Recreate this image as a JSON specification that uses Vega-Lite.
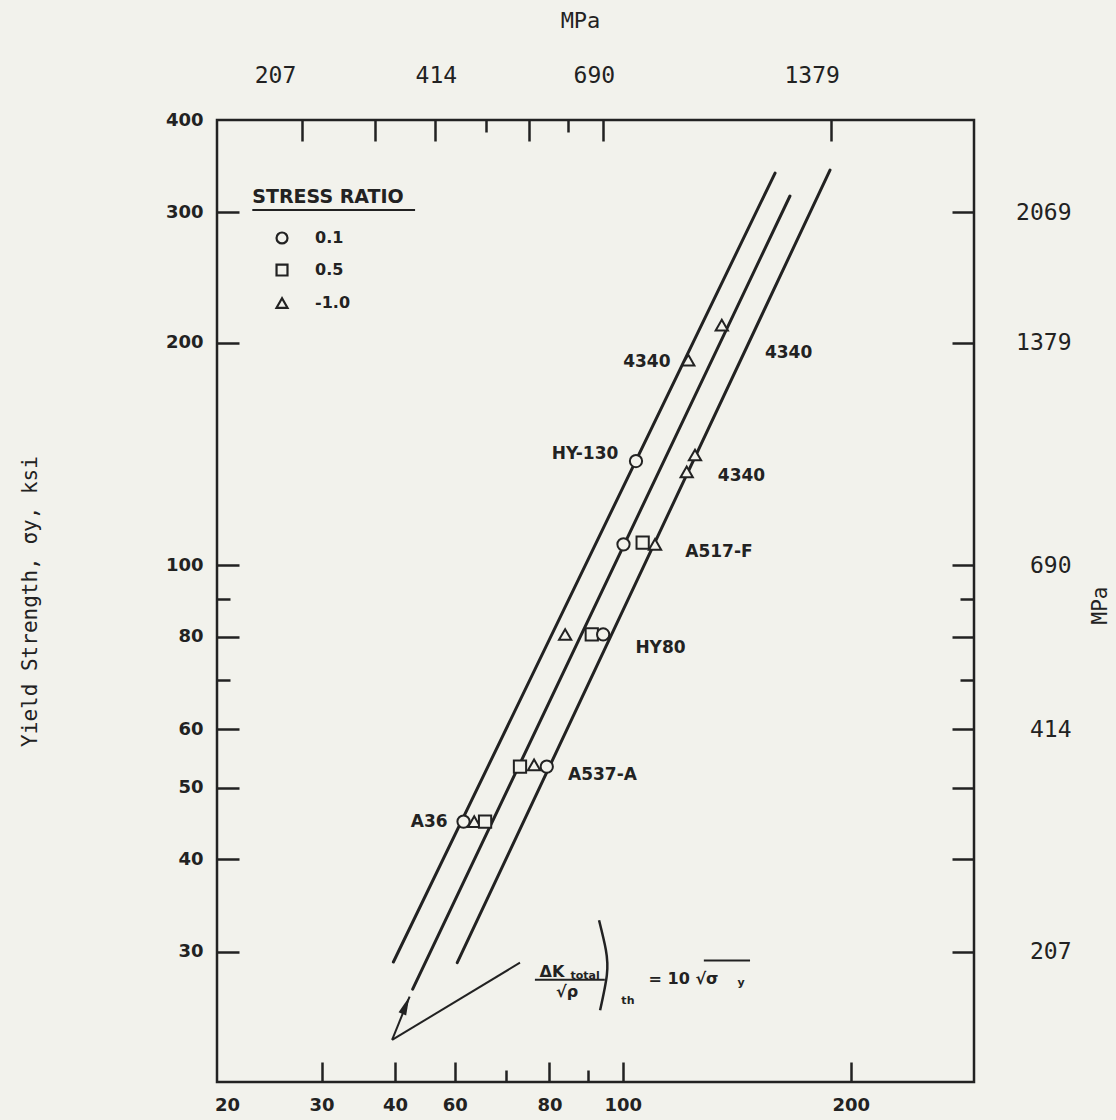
{
  "$schema": "https://vega.github.io/schema/vega-lite/v6.json",
  "width": 757,
  "height": 962,
  "autosize": "none",
  "padding": {"left": 217, "top": 120, "right": 142, "bottom": 38},
  "background": "#f2f2ec",
  "config": {"view": {"stroke": "#222222", "strokeWidth": 2.5}, "font": "DejaVu Sans"},
  "datasets": {
    "points": [
      {"steel": "4340", "x": 139.3, "y": 211.2, "ratio": "-1.0"},
      {"steel": "4340", "x": 125.8, "y": 189.4, "ratio": "-1.0"},
      {"steel": "HY-130", "x": 107.3, "y": 138.3, "ratio": "0.1"},
      {"steel": "4340", "x": 128.4, "y": 140.9, "ratio": "-1.0"},
      {"steel": "4340", "x": 125.2, "y": 133.7, "ratio": "-1.0"},
      {"steel": "A517-F", "x": 103.3, "y": 106.7, "ratio": "0.1"},
      {"steel": "A517-F", "x": 109.5, "y": 107.3, "ratio": "0.5"},
      {"steel": "A517-F", "x": 113.7, "y": 106.7, "ratio": "-1.0"},
      {"steel": "HY80", "x": 86.5, "y": 80.6, "ratio": "-1.0"},
      {"steel": "HY80", "x": 93.8, "y": 80.6, "ratio": "0.5"},
      {"steel": "HY80", "x": 97.1, "y": 80.6, "ratio": "0.1"},
      {"steel": "A537-A", "x": 75.4, "y": 53.4, "ratio": "0.5"},
      {"steel": "A537-A", "x": 78.7, "y": 53.7, "ratio": "-1.0"},
      {"steel": "A537-A", "x": 81.8, "y": 53.4, "ratio": "0.1"},
      {"steel": "A36", "x": 63.5, "y": 45.0, "ratio": "0.1"},
      {"steel": "A36", "x": 65.6, "y": 45.0, "ratio": "-1.0"},
      {"steel": "A36", "x": 67.8, "y": 45.0, "ratio": "0.5"}
    ],
    "legendRows": [
      {"ratio": "0.1", "x": 36.56, "y": 277.0, "lx": 40.43},
      {"ratio": "0.5", "x": 36.56, "y": 250.7, "lx": 40.43},
      {"ratio": "-1.0", "x": 36.56, "y": 226.2, "lx": 40.43}
    ],
    "legendTitle": [{"t": "STRESS RATIO", "x": 33.4, "y": 314.8}],
    "labels": [
      {"text": "4340", "x": 110.9, "y": 188.3},
      {"text": "4340", "x": 170.7, "y": 193.6},
      {"text": "HY-130", "x": 91.9, "y": 141.4},
      {"text": "4340", "x": 147.9, "y": 132.0},
      {"text": "A517-F", "x": 138.1, "y": 104.2},
      {"text": "HY80", "x": 115.6, "y": 77.2},
      {"text": "A537-A", "x": 96.9, "y": 52.0},
      {"text": "A36", "x": 57.2, "y": 44.9}
    ],
    "lines": [
      {"id": "L1", "kind": "fit", "ord": 1, "x": 51.3, "y": 29.06},
      {"id": "L1", "kind": "fit", "ord": 2, "x": 163.8, "y": 339.1},
      {"id": "L2", "kind": "fit", "ord": 1, "x": 54.4, "y": 26.7},
      {"id": "L2", "kind": "fit", "ord": 2, "x": 171.4, "y": 315.7},
      {"id": "L3", "kind": "fit", "ord": 1, "x": 62.3, "y": 29.0},
      {"id": "L3", "kind": "fit", "ord": 2, "x": 193.6, "y": 342.3},
      {"id": "A1", "kind": "pointer", "ord": 1, "x": 51.1, "y": 22.8},
      {"id": "A1", "kind": "pointer", "ord": 2, "x": 53.9, "y": 26.1},
      {"id": "A2", "kind": "pointer", "ord": 1, "x": 51.1, "y": 22.8},
      {"id": "A2", "kind": "pointer", "ord": 2, "x": 75.4, "y": 29.0},
      {"id": "F1", "kind": "bar", "ord": 1, "x": 78.9, "y": 27.5},
      {"id": "F1", "kind": "bar", "ord": 2, "x": 97.6, "y": 27.5},
      {"id": "F2", "kind": "bar", "ord": 1, "x": 131.9, "y": 29.2},
      {"id": "F2", "kind": "bar", "ord": 2, "x": 151.8, "y": 29.2},
      {"id": "U1", "kind": "bar", "ord": 1, "x": 33.4, "y": 302.2},
      {"id": "U1", "kind": "bar", "ord": 2, "x": 54.8, "y": 302.2}
    ],
    "paren": [
      {"ord": 1, "x": 95.9, "y": 33.1},
      {"ord": 2, "x": 97.9, "y": 30.2},
      {"ord": 3, "x": 98.2, "y": 27.9},
      {"ord": 4, "x": 96.2, "y": 25.0}
    ],
    "arrowhead": [{"x": 53.25, "y": 25.36}],
    "formulaBig": [
      {"t": "ΔK", "x": 83.1, "y": 28.2},
      {"t": "√ρ", "x": 87.0, "y": 26.5},
      {"t": "= 10 √σ", "x": 124.0, "y": 27.6}
    ],
    "formulaSmall": [
      {"t": "total", "x": 91.9, "y": 27.8},
      {"t": "th", "x": 104.7, "y": 25.7},
      {"t": "y", "x": 147.7, "y": 27.2}
    ]
  },
  "encoding": {
    "x": {"field": "x", "type": "quantitative", "scale": {"type": "log", "domain": [30, 300], "nice": false}, "axis": null},
    "y": {"field": "y", "type": "quantitative", "scale": {"type": "log", "domain": [20, 400], "nice": false}, "axis": null}
  },
  "layer": [
    {
      "data": {"name": "lines"},
      "transform": [{"filter": "datum.kind == 'fit'"}],
      "mark": {"type": "line", "stroke": "#222222", "strokeWidth": 3, "strokeCap": "round"},
      "encoding": {
        "x": {
          "field": "x", "type": "quantitative",
          "scale": {"type": "log", "domain": [30, 300], "nice": false},
          "axis": {
            "orient": "top",
            "values": [30, 40, 50, 60, 70, 80, 90, 100, 200],
            "labelExpr": "datum.value == 30 ? '207' : datum.value == 60 ? '414' : datum.value == 100 ? '690' : datum.value == 200 ? '1379' : ''",
            "labelFont": "DejaVu Sans Mono", "labelFontSize": 23, "labelColor": "#222222",
            "labelPadding": 54, "labelFlush": false, "labelOverlap": false,
            "tickOffset": -10,
            "labelOffset": {"condition": [{"test": "datum.value == 30", "value": 68}, {"test": "datum.value == 200", "value": -19}, {"test": "datum.value == 100", "value": -9}], "value": 1},
            "tickSize": {"condition": {"test": "datum.value == 70 || datum.value == 90", "value": -12}, "value": -21},
            "tickOpacity": {"condition": {"test": "datum.value == 30", "value": 0}, "value": 1},
            "tickWidth": 2.5, "tickColor": "#222222", "domain": false, "grid": false,
            "title": "MPa", "titleFont": "DejaVu Sans Mono", "titleFontSize": 22, "titleFontWeight": "normal", "titleColor": "#222222",
            "titleX": 363, "titleY": -100, "titleAlign": "center", "titleBaseline": "middle", "titleAngle": 0
          }
        },
        "y": {
          "field": "y", "type": "quantitative",
          "scale": {"type": "log", "domain": [20, 400], "nice": false},
          "axis": {
            "orient": "right",
            "values": [30, 40, 50, 60, 70, 80, 90, 100, 200, 300],
            "labelExpr": "datum.value == 30 ? '207' : datum.value == 60 ? '414' : datum.value == 100 ? '690' : datum.value == 200 ? '1379' : datum.value == 300 ? '2069' : ''",
            "labelFont": "DejaVu Sans Mono", "labelFontSize": 23, "labelColor": "#222222",
            "labelAlign": "right", "labelBaseline": "middle",
            "labelPadding": 119, "labelFlush": false, "labelOverlap": false,
            "tickSize": {"condition": {"test": "datum.value == 70 || datum.value == 90", "value": -14}, "value": -22},
            "tickWidth": 2.5, "tickColor": "#222222", "domain": false, "grid": false,
            "title": "MPa", "titleFont": "DejaVu Sans Mono", "titleFontSize": 21, "titleFontWeight": "normal", "titleColor": "#222222",
            "titleX": 126, "titleY": 485, "titleAngle": -90, "titleAlign": "center", "titleBaseline": "middle"
          }
        },
        "detail": {"field": "id"},
        "order": {"field": "ord"}
      }
    },
    {
      "data": {"name": "lines"},
      "transform": [{"filter": "datum.kind != 'fit'"}],
      "mark": {"type": "line", "stroke": "#222222", "strokeWidth": 2},
      "encoding": {"detail": {"field": "id"}, "order": {"field": "ord"}}
    },
    {
      "data": {"name": "paren"},
      "mark": {"type": "line", "stroke": "#222222", "strokeWidth": 2.5, "interpolate": "natural"},
      "encoding": {"order": {"field": "ord"}}
    },
    {
      "data": {"name": "points"},
      "mark": {"type": "point", "filled": true, "fill": "#f2f2ec", "stroke": "#222222", "strokeWidth": 2, "size": 150, "opacity": 1},
      "encoding": {
        "x": {
          "field": "x", "type": "quantitative",
          "scale": {"type": "log", "domain": [30, 300], "nice": false},
          "axis": {
            "orient": "bottom",
            "values": [30, 40, 50, 60, 70, 80, 90, 100, 200],
            "labelExpr": "datum.value == 30 ? '20' : datum.value == 40 ? '30' : datum.value == 50 ? '40' : (datum.value == 70 || datum.value == 90) ? '' : format(datum.value, 'd')",
            "labelFont": "DejaVu Sans", "labelFontWeight": "bold", "labelFontSize": 18, "labelColor": "#222222",
            "labelPadding": 34, "labelFlush": false, "labelOverlap": false,
            "tickOffset": 10,
            "tickSize": {"condition": {"test": "datum.value == 70 || datum.value == 90", "value": -12}, "value": -20},
            "tickOpacity": {"condition": {"test": "datum.value == 30", "value": 0}, "value": 1},
            "tickWidth": 2.5, "tickColor": "#222222", "domain": false, "grid": false, "title": null
          }
        },
        "y": {
          "field": "y", "type": "quantitative",
          "scale": {"type": "log", "domain": [20, 400], "nice": false},
          "axis": {
            "orient": "left",
            "values": [30, 40, 50, 60, 70, 80, 90, 100, 200, 300, 400],
            "labelExpr": "(datum.value == 70 || datum.value == 90) ? '' : format(datum.value, 'd')",
            "labelFont": "DejaVu Sans", "labelFontWeight": "bold", "labelFontSize": 18, "labelColor": "#222222",
            "labelPadding": 36, "labelFlush": false, "labelOverlap": false,
            "tickSize": {"condition": {"test": "datum.value == 70 || datum.value == 90", "value": -13}, "value": -22},
            "tickOpacity": {"condition": {"test": "datum.value == 400", "value": 0}, "value": 1},
            "tickWidth": 2.5, "tickColor": "#222222", "domain": false, "grid": false,
            "title": "Yield Strength, σy, ksi", "titleFont": "DejaVu Sans Mono", "titleFontSize": 21, "titleFontWeight": "normal", "titleColor": "#222222",
            "titleX": -187, "titleY": 481, "titleAngle": -90, "titleAlign": "center", "titleBaseline": "middle"
          }
        },
        "shape": {
          "field": "ratio", "type": "nominal",
          "scale": {"domain": ["0.1", "0.5", "-1.0"], "range": ["circle", "square", "triangle-up"]},
          "legend": null
        }
      }
    },
    {
      "data": {"name": "legendRows"},
      "mark": {"type": "point", "filled": true, "fill": "#f2f2ec", "stroke": "#222222", "strokeWidth": 2.2, "size": 120, "opacity": 1},
      "encoding": {
        "shape": {"field": "ratio", "type": "nominal", "scale": {"domain": ["0.1", "0.5", "-1.0"], "range": ["circle", "square", "triangle-up"]}, "legend": null}
      }
    },
    {
      "data": {"name": "legendRows"},
      "mark": {"type": "text", "font": "DejaVu Sans", "fontWeight": "bold", "fontSize": 16, "fill": "#222222", "align": "left", "baseline": "middle"},
      "encoding": {
        "x": {"field": "lx", "type": "quantitative", "scale": {"type": "log", "domain": [30, 300], "nice": false}, "axis": null},
        "text": {"field": "ratio"}
      }
    },
    {
      "data": {"name": "legendTitle"},
      "mark": {"type": "text", "font": "DejaVu Sans", "fontWeight": "bold", "fontSize": 19, "fill": "#222222", "align": "left", "baseline": "middle"},
      "encoding": {"text": {"field": "t"}}
    },
    {
      "data": {"name": "arrowhead"},
      "mark": {"type": "point", "shape": "M0,-1L0.42,0.9L-0.42,0.9Z", "filled": true, "fill": "#222222", "strokeWidth": 0, "size": 380, "angle": 22, "opacity": 1}
    },
    {
      "data": {"name": "labels"},
      "mark": {"type": "text", "font": "DejaVu Sans", "fontWeight": "bold", "fontSize": 17, "fill": "#222222", "align": "center", "baseline": "middle"},
      "encoding": {"text": {"field": "text"}}
    },
    {
      "data": {"name": "formulaBig"},
      "mark": {"type": "text", "font": "DejaVu Sans", "fontWeight": "bold", "fontSize": 16, "fill": "#222222", "align": "center", "baseline": "middle"},
      "encoding": {"text": {"field": "t"}}
    },
    {
      "data": {"name": "formulaSmall"},
      "mark": {"type": "text", "font": "DejaVu Sans", "fontWeight": "bold", "fontSize": 11, "fill": "#222222", "align": "center", "baseline": "middle"},
      "encoding": {"text": {"field": "t"}}
    }
  ],
  "resolve": {"axis": {"x": "independent", "y": "independent"}}
}
